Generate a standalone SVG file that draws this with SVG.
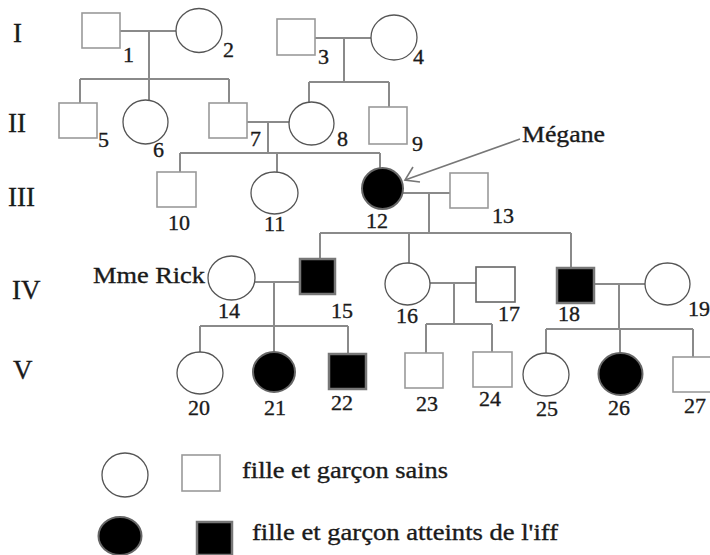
<svg xmlns="http://www.w3.org/2000/svg" width="710" height="555" viewBox="0 0 710 555">
<style>
text{font-family:"Liberation Serif","Times New Roman",serif;fill:#1a1a1a;stroke:#1a1a1a;stroke-width:0.35}
.num{font-size:22px}
.gen{font-size:27px}
.lbl{font-size:23px}
.sq{fill:#fff;stroke:#9a9a9a;stroke-width:1.6}
.ci{fill:#fff;stroke:#555;stroke-width:1.3}
.sqa{fill:#000;stroke:#777;stroke-width:2.5}
.cia{fill:#000;stroke:#666;stroke-width:2}
.con{stroke:#8a8a8a;stroke-width:2;fill:none}
.arr{stroke:#777;stroke-width:1.6;fill:none}
</style>

<g id="generations">
<text class="gen" x="13" y="42">I</text>
<text class="gen" x="8" y="132">II</text>
<text class="gen" x="8" y="206">III</text>
<text class="gen" x="12" y="299">IV</text>
<text class="gen" x="13" y="379">V</text>
</g>

<g id="connectors">
<path class="con" d="M120,31H176 M149,31V79 M80,79H229 M80,79V103 M149,79V100 M229,79V103"/>
<path class="con" d="M315,38H371 M344,38V82 M309,82H389 M309,82V102 M389,82V107"/>
<path class="con" d="M247,122H289 M268,122V153 M180,153H380 M180,153V172 M277,153V172 M380,153V168"/>
<path class="con" d="M403,193H450 M429,193V233 M320,233H571 M320,233V259 M409,233V263 M571,233V268"/>
<path class="con" d="M255,282H300 M274,282V326 M200,326H348 M200,326V352 M274,326V352 M348,326V354"/>
<path class="con" d="M430,283H476 M454,283V324 M426,324H492 M426,324V353 M492,324V352"/>
<path class="con" d="M594,284H645 M619,284V329 M546,329H693 M546,329V353 M620,329V353 M693,329V357"/>
<g id="arrow">
<line class="arr" x1="520" y1="139" x2="405" y2="180"/>
<polyline class="arr" points="413,167 405,180 420,182"/>
</g>
</g>

<g id="n1"><rect class="sq" x="82" y="13" width="38" height="35"/><text class="num" x="123" y="62">1</text></g>
<g id="n2"><ellipse class="ci" cx="199" cy="30.5" rx="23" ry="22"/><text class="num" x="223" y="57">2</text></g>
<g id="n3"><rect class="sq" x="277" y="19" width="38" height="36"/><text class="num" x="318" y="64">3</text></g>
<g id="n4"><ellipse class="ci" cx="394" cy="37.5" rx="23" ry="22.5"/><text class="num" x="413" y="64">4</text></g>
<g id="n5"><rect class="sq" x="59" y="103" width="38" height="35"/><text class="num" x="98" y="147">5</text></g>
<g id="n6"><ellipse class="ci" cx="145.5" cy="122" rx="22.5" ry="22"/><text class="num" x="153" y="157">6</text></g>
<g id="n7"><rect class="sq" x="209" y="103" width="38" height="35"/><text class="num" x="250" y="146">7</text></g>
<g id="n8"><ellipse class="ci" cx="311.5" cy="123.5" rx="22.5" ry="21.5"/><text class="num" x="337" y="146">8</text></g>
<g id="n9"><rect class="sq" x="369" y="107" width="38" height="37"/><text class="num" x="412" y="151">9</text></g>
<g id="n10"><rect class="sq" x="157" y="172" width="39" height="35"/><text class="num" x="168" y="230">10</text></g>
<g id="n11"><ellipse class="ci" cx="274.5" cy="193" rx="23.5" ry="21"/><text class="num" x="264" y="231">11</text></g>
<g id="n12"><ellipse class="cia" cx="382.5" cy="188.5" rx="20.5" ry="20.5"/><text class="num" x="366" y="228">12</text></g>
<g id="n13"><rect class="sq" x="450" y="173" width="38" height="35"/><text class="num" x="492" y="223">13</text></g>
<g id="n14"><ellipse class="ci" cx="231.5" cy="278" rx="23.5" ry="22"/><text class="num" x="218" y="318">14</text><text class="lbl" x="93" y="283" textLength="112" lengthAdjust="spacingAndGlyphs">Mme Rick</text></g>
<g id="n15"><rect class="sqa" x="300" y="259" width="35" height="35"/><text class="num" x="331" y="318">15</text></g>
<g id="n16"><ellipse class="ci" cx="407.5" cy="284" rx="22.5" ry="21"/><text class="num" x="396" y="323">16</text></g>
<g id="n17"><rect class="sq" x="476" y="267" width="39" height="35" style="stroke:#666"/><text class="num" x="498" y="321">17</text></g>
<g id="n18"><rect class="sqa" x="557" y="268" width="37" height="35"/><text class="num" x="558" y="321">18</text></g>
<g id="n19"><ellipse class="ci" cx="667.5" cy="284" rx="22.5" ry="21"/><text class="num" x="688" y="316">19</text></g>
<g id="n20"><ellipse class="ci" cx="200" cy="373" rx="23" ry="21"/><text class="num" x="188" y="415">20</text></g>
<g id="n21"><ellipse class="cia" cx="274" cy="372" rx="21" ry="20"/><text class="num" x="264" y="415">21</text></g>
<g id="n22"><rect class="sqa" x="329" y="354" width="37" height="35"/><text class="num" x="331" y="410">22</text></g>
<g id="n23"><rect class="sq" x="405" y="353" width="38" height="35"/><text class="num" x="416" y="411">23</text></g>
<g id="n24"><rect class="sq" x="473" y="352" width="39" height="35"/><text class="num" x="479" y="406">24</text></g>
<g id="n25"><ellipse class="ci" cx="546" cy="374.5" rx="23" ry="21.5"/><text class="num" x="536" y="416">25</text></g>
<g id="n26"><ellipse class="cia" cx="620.5" cy="374" rx="22" ry="21"/><text class="num" x="608" y="415">26</text></g>
<g id="n27"><rect class="sq" x="673" y="357" width="38" height="35"/><text class="num" x="684" y="413">27</text></g>

<g id="megane"><text class="lbl" x="522" y="142" textLength="83" lengthAdjust="spacingAndGlyphs">Mégane</text></g>

<g id="legend">
<ellipse class="ci" cx="125" cy="475" rx="23" ry="22"/>
<rect class="sq" x="182" y="455" width="38" height="36"/>
<text class="lbl" x="242" y="478" textLength="206" lengthAdjust="spacingAndGlyphs">fille et garçon sains</text>
<ellipse class="cia" cx="120" cy="536" rx="21.5" ry="19"/>
<rect class="sqa" x="197" y="522" width="35" height="33"/>
<text class="lbl" x="252" y="540" textLength="306" lengthAdjust="spacingAndGlyphs">fille et garçon atteints de l'iff</text>
</g>
</svg>
